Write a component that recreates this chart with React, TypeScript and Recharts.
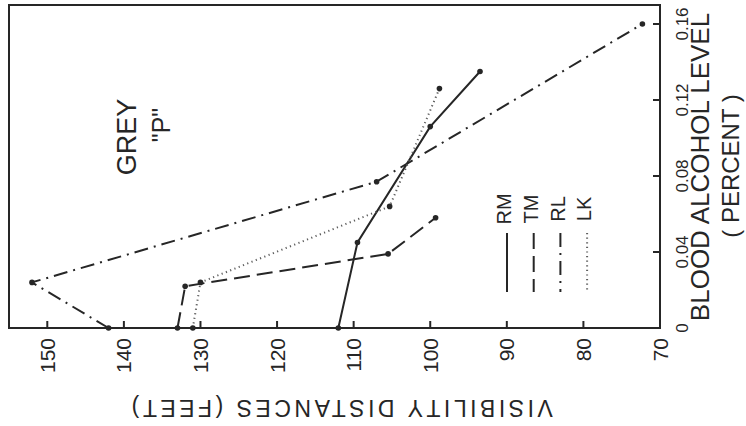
import {
  ScatterChart,
  Scatter,
  XAxis,
  YAxis,
  ReferenceArea,
  ReferenceDot,
  Legend,
} from "recharts";

// Blood alcohol level (percent) and visibility distance (feet) per subject
const rmLevels = [0, 0.045, 0.106, 0.135];
const rmDistances = [112, 109.5, 100, 93.5];
const tmLevels = [0, 0.022, 0.039, 0.058];
const tmDistances = [133, 132, 105.5, 99.3];
const rlLevels = [0, 0.024, 0.077, 0.16];
const rlDistances = [142, 152, 107, 72.3];
const lkLevels = [0, 0.024, 0.064, 0.126];
const lkDistances = [131, 130, 105.3, 98.8];

const distanceTicks = [150, 140, 130, 120, 110, 100, 90, 80, 70];
const levelTicks = [0, 0.04, 0.08, 0.12, 0.16];
const levelTickLabels = ["0", "0.04", "0.08", "0.12", "0.16"];

const INK = "#262626";
const FONT = '"Liberation Sans", Arial, sans-serif';
const TICK = 7; // tick marks point into the plot (negative tickSize)

const series = [
  { name: "RM", levels: rmLevels, distances: rmDistances, dash: undefined, color: INK },
  { name: "TM", levels: tmLevels, distances: tmDistances, dash: "16 7", color: INK },
  { name: "RL", levels: rlLevels, distances: rlDistances, dash: "14 6 2 6", color: INK },
  { name: "LK", levels: lkLevels, distances: lkDistances, dash: "1.2 3.4", color: "#5e5e5e" },
];

const toPoints = (levels: number[], distances: number[]) =>
  levels.map((level, i) => ({ level, distance: distances[i] }));

// labels run bottom-to-top, like the rest of the lettering
function DistanceTick({ x, y, payload }: any) {
  return (
    <text
      transform={`translate(${x},${y + TICK + 10}) rotate(-90)`}
      textAnchor="end"
      dy="0.36em"
      fontSize={21}
      fontFamily={FONT}
      fill={INK}
    >
      {payload.value}
    </text>
  );
}

function LevelTick({ x, y, payload }: any) {
  const label = levelTickLabels[levelTicks.indexOf(payload.value)];
  return (
    <text
      transform={`translate(${x + TICK + 22},${y}) rotate(-90)`}
      textAnchor="middle"
      dy="0.36em"
      fontSize={17}
      fontFamily={FONT}
      fill={INK}
    >
      {label}
    </text>
  );
}

function DistanceTitle({ viewBox }: any) {
  const { x, y, width } = viewBox;
  return (
    <text
      transform={`translate(${x + width / 2 + 6},${y + 80}) rotate(180)`}
      textAnchor="middle"
      dy="0.36em"
      fontSize={23}
      letterSpacing={3.5}
      fontFamily={FONT}
      fill={INK}
    >
      VISIBILITY DISTANCES (FEET)
    </text>
  );
}

function LevelTitle({ viewBox }: any) {
  const { x, y } = viewBox;
  return (
    <g fontFamily={FONT} fill={INK}>
      <text
        transform={`translate(${x + 40},${y + 162}) rotate(-90)`}
        textAnchor="middle"
        dy="0.36em"
        fontSize={26}
      >
        BLOOD ALCOHOL LEVEL
      </text>
      <text
        transform={`translate(${x + 70},${y + 161}) rotate(-90)`}
        textAnchor="middle"
        dy="0.36em"
        fontSize={24}
      >
        ( PERCENT )
      </text>
    </g>
  );
}

function PanelTag({ viewBox }: any) {
  const { x, y } = viewBox;
  return (
    <g fontFamily={FONT} fill={INK}>
      <text transform={`translate(${x + 2},${y - 1}) rotate(-90)`} textAnchor="middle" dy="0.36em" fontSize={27}>
        GREY
      </text>
      <text transform={`translate(${x + 37},${y - 13}) rotate(-90)`} textAnchor="middle" dy="0.36em" fontSize={25}>
        "P"
      </text>
    </g>
  );
}

function LegendKey() {
  return (
    <svg width={120} height={120} style={{ display: "block" }}>
      {series.map((s, i) => {
        const x = 27 + i * 26.7;
        return (
          <g key={s.name}>
            <text
              transform={`translate(${x - 3},24) rotate(-90)`}
              textAnchor="middle"
              dy="0.36em"
              fontSize={20}
              fontFamily={FONT}
              fill={INK}
            >
              {s.name}
            </text>
            <line
              x1={x}
              y1={48}
              x2={x}
              y2={107}
              stroke={s.color}
              strokeWidth={2}
              strokeDasharray={s.dash}
            />
          </g>
        );
      })}
    </svg>
  );
}

const Dot = ({ cx, cy }: any) => <circle cx={cx} cy={cy} r={2.8} fill={INK} />;

export default function App() {
  return (
    <div style={{ position: "absolute", left: 0, top: 0, width: 746, height: 426, background: "#fff" }}>
      <ScatterChart width={746} height={426} margin={{ top: 5, right: 0, bottom: 0, left: 9 }}>
        <XAxis
          type="number"
          dataKey="distance"
          domain={[70, 155]}
          reversed
          ticks={distanceTicks}
          interval={0}
          height={98}
          tickSize={-TICK}
          tickMargin={0}
          tickLine={{ stroke: INK, strokeWidth: 2 }}
          axisLine={{ stroke: INK, strokeWidth: 2 }}
          tick={<DistanceTick />}
          label={<DistanceTitle />}
        />
        <YAxis
          type="number"
          dataKey="level"
          orientation="right"
          domain={[0, 0.17]}
          ticks={levelTicks}
          interval={0}
          width={86}
          tickSize={-TICK}
          tickMargin={0}
          tickLine={{ stroke: INK, strokeWidth: 2 }}
          axisLine={{ stroke: INK, strokeWidth: 2 }}
          tick={<LevelTick />}
          label={<LevelTitle />}
        />
        <ReferenceArea x1={155} x2={70} y1={0} y2={0.17} fill="none" stroke={INK} strokeWidth={2} />
        <ReferenceDot x={140} y={0.1} r={0} fill="none" stroke="none" label={<PanelTag />} />
        {series.map((s) => (
          <Scatter
            key={s.name}
            name={s.name}
            data={toPoints(s.levels, s.distances)}
            fill={s.color}
            line={{ stroke: s.color, strokeWidth: 2, strokeDasharray: s.dash }}
            lineType="joint"
            shape={<Dot />}
            isAnimationActive={false}
          />
        ))}
        <Legend
          layout="vertical"
          align="center"
          verticalAlign="middle"
          width={120}
          height={120}
          wrapperStyle={{ left: 480, top: 185 }}
          content={<LegendKey />}
        />
      </ScatterChart>
    </div>
  );
}
